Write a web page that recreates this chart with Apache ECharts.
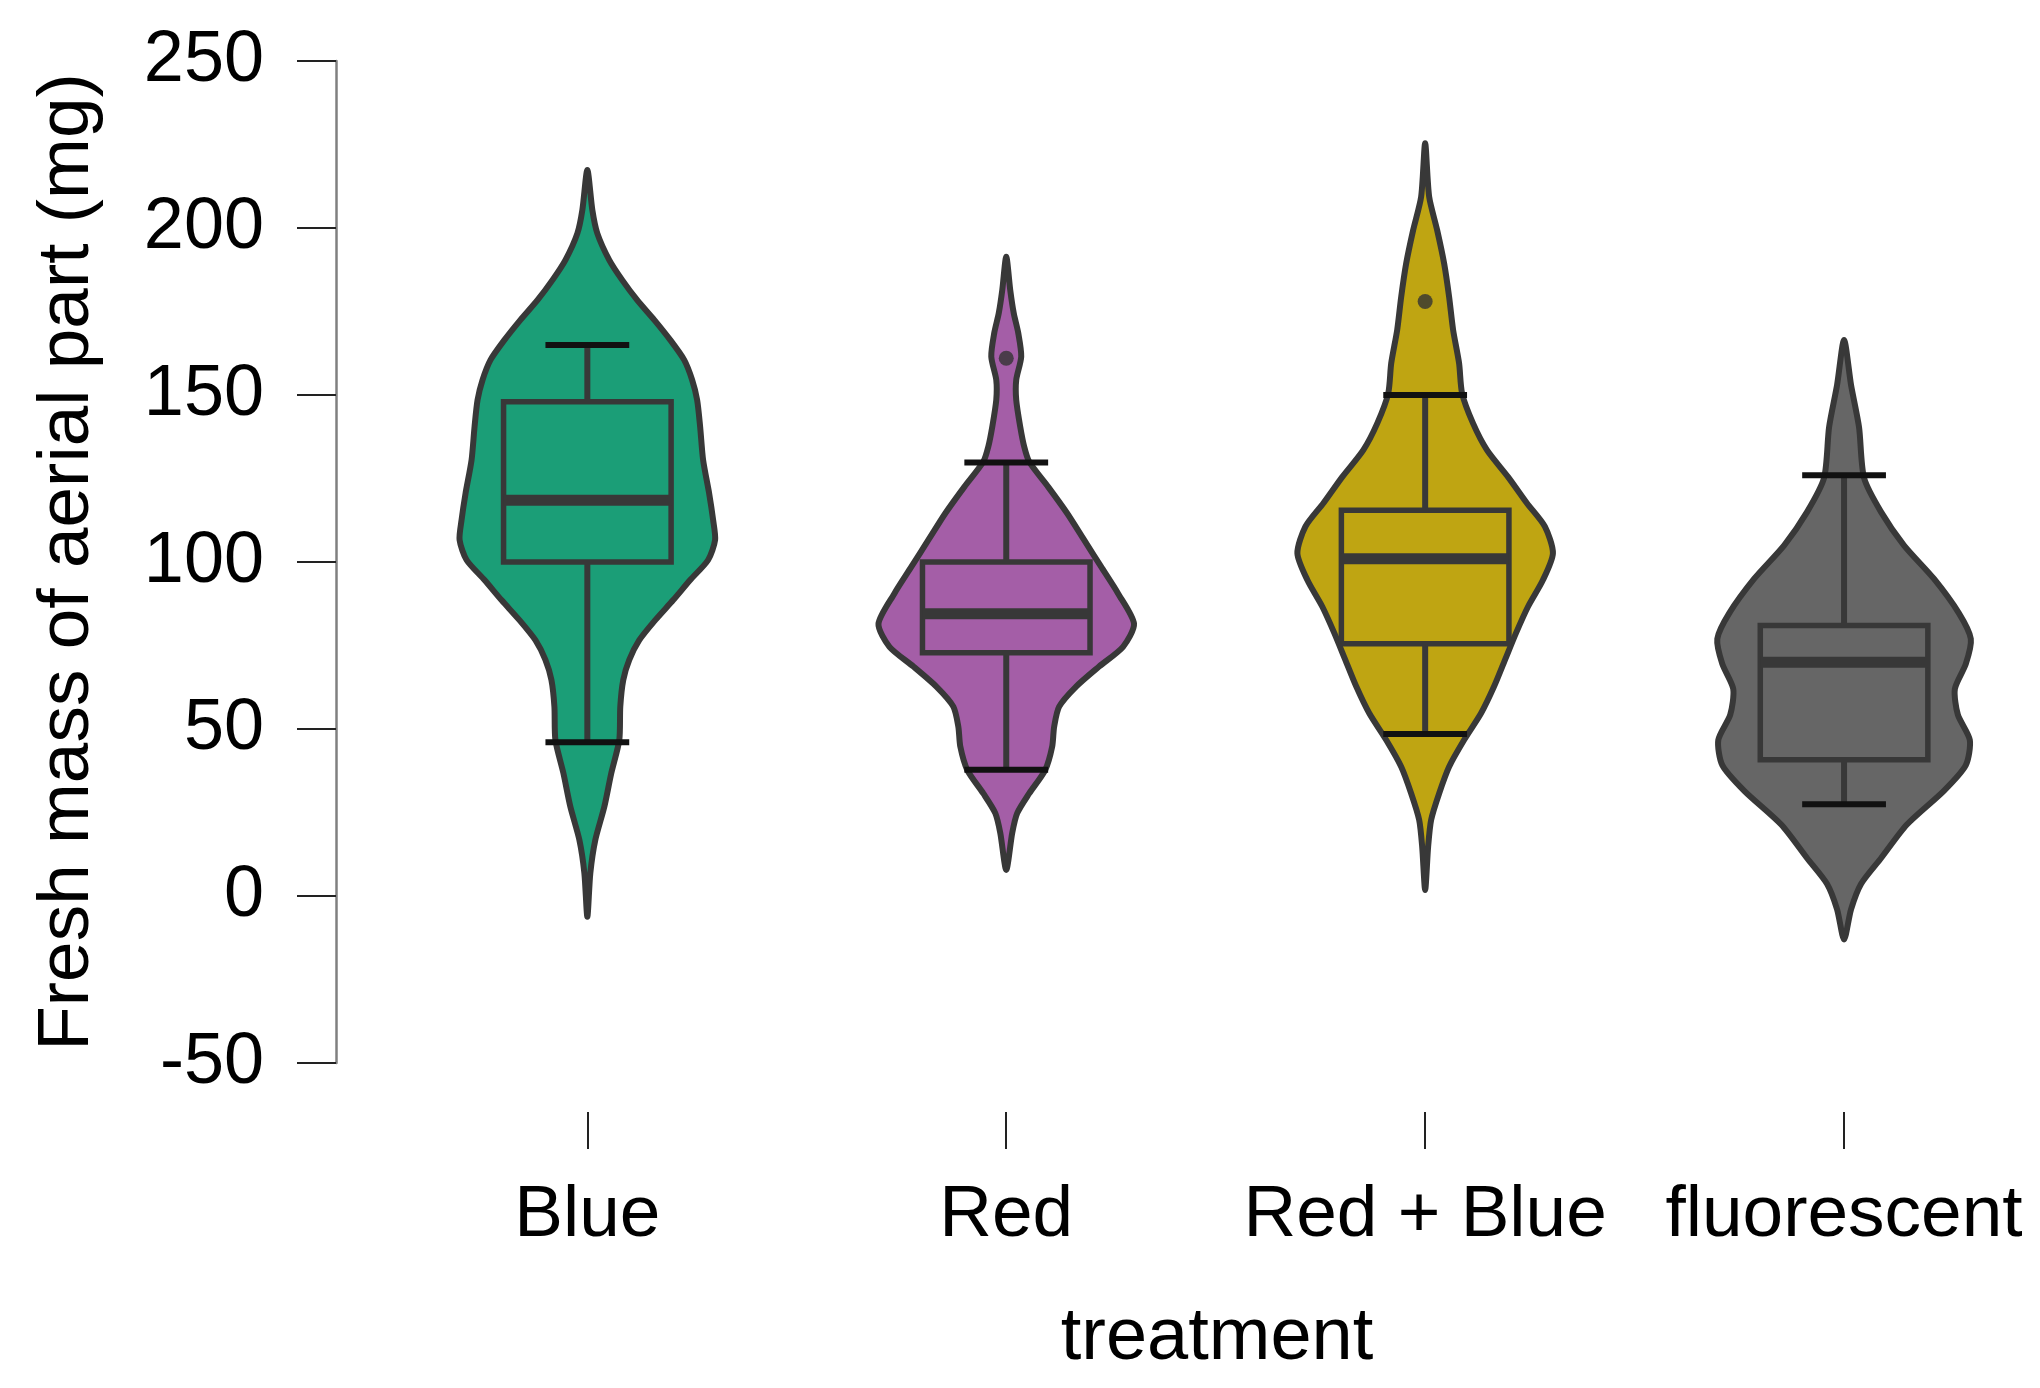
<!DOCTYPE html>
<html>
<head>
<meta charset="utf-8">
<script src="https://cdn.jsdelivr.net/npm/echarts@6/dist/echarts.min.js"></script>
<style>
  html, body { margin: 0; padding: 0; background: #ffffff; }
  #chart { width: 2040px; height: 1388px; }
</style>
</head>
<body>
<div id="chart"></div>
<script>
// ---------------- data ----------------
const categories = ['Blue', 'Red', 'Red + Blue', 'fluorescent'];
const xPositions = [1, 2, 3, 4];

// box-plot statistics per treatment
const whiskerLow  = [46, 37.8, 48.5, 27.5];
const quartile1   = [100, 72.8, 75.5, 40.8];
const medians     = [118.5, 84.5, 101, 70];
const quartile3   = [148, 100, 115.5, 81];
const whiskerHigh = [165, 129.8, 150, 126];

// outliers
const outlierCategory = ['Red', 'Red + Blue'];
const outlierValue = [161, 178];

// violin outlines: [value (mg), relative density width (0..128)]
const blueViolin = [
  [217.4, 0], [205.4, 5], [198.4, 10], [190.4, 22], [184.4, 35], [178.4, 50],
  [172.5, 67], [166.5, 83], [160.5, 97], [154.5, 105], [148.5, 110], [140.5, 113],
  [130.5, 116], [120.6, 122], [112.6, 126], [106.6, 128], [100.6, 121],
  [94.6, 103], [88.6, 86], [82.6, 68], [76.6, 52], [70.7, 42], [64.7, 36],
  [56.7, 33], [46.7, 32], [36.8, 24], [26.7, 17], [16.8, 8], [6.9, 3], [-6.2, 0]
];
const redViolin = [
  [191.4, 0], [181.4, 4], [174.5, 7.5], [168.6, 12], [161.5, 15], [154.5, 10],
  [148.5, 10], [140.5, 14], [134.5, 18], [130, 23], [122.5, 42], [114.6, 61],
  [106.6, 78], [98.6, 95], [90.6, 112], [81.5, 128], [74.6, 117], [68.7, 93],
  [62.7, 70], [56.7, 53], [50.7, 48], [44.7, 46], [37.7, 39], [30.7, 23],
  [24.8, 11], [18.9, 6], [7.8, 0]
];
const redBlueViolin = [
  [225.4, 0], [209.4, 4], [199.4, 12], [189.4, 19], [179.4, 24], [169.5, 28],
  [159.5, 34], [150.5, 37], [141.5, 48], [133.5, 62], [125.5, 83], [117.6, 102],
  [110.6, 120], [102.6, 128], [94.6, 118], [86.6, 103], [78.7, 91], [70.7, 80],
  [62.7, 69], [54.7, 56], [46.7, 39], [38.7, 24], [30.7, 14], [22.8, 6],
  [14.8, 3], [1.8, 0]
];
const fluorescentViolin = [
  [166.5, 0], [153, 7], [140.4, 15], [125.2, 20], [115, 37], [105, 60], [95, 90],
  [84.7, 115], [77, 127], [69.5, 122], [62, 111], [54.3, 114], [46.7, 126],
  [39.2, 122], [31.5, 100], [21.4, 63], [11.3, 37], [3.6, 17], [-4, 7], [-13, 0]
];
const violinProfiles = [blueViolin, redViolin, redBlueViolin, fluorescentViolin];

// ---------------- style ----------------
const fillColors = ['#1b9e77', '#a45ea7', '#bfa512', '#666666'];
const outline = '#383838';
const VIOLIN_HALF = 0.305;   // x-units for density width 128
const BOX_HALF = 0.2;        // x-units
const CAP_HALF = 0.1;        // x-units
const FONT = "'Liberation Sans', Arial, Helvetica, sans-serif";

const chart = echarts.init(document.getElementById('chart'), null, { renderer: 'canvas' });

const violinData = xPositions.map((x, i) => [x, i]);
const boxData = xPositions.map((x, i) => [x, whiskerLow[i], quartile1[i], medians[i], quartile3[i], whiskerHigh[i]]);
const outlierData = outlierCategory.map((c, k) => [xPositions[categories.indexOf(c)], outlierValue[k]]);

const option = {
  animation: false,
  backgroundColor: '#ffffff',
  grid: { left: 336, top: 61, width: 1684, height: 1002, containLabel: false },
  xAxis: {
    type: 'value',
    min: 0.4,
    max: 4.42,
    offset: 49,
    splitLine: { show: false },
    axisLine: { show: false, onZero: false },
    axisTick: { show: true, customValues: xPositions, length: 37, lineStyle: { color: '#222', width: 2 } },
    axisLabel: {
      customValues: xPositions,
      formatter: v => categories[xPositions.indexOf(v)] || '',
      fontSize: 73, color: '#000', fontFamily: FONT, margin: 67
    }
  },
  yAxis: {
    type: 'value',
    min: -50, max: 250, interval: 50,
    name: 'Fresh mass of aerial part (mg)',
    nameLocation: 'middle',
    nameGap: 232,
    nameTextStyle: { fontSize: 73, color: '#000', fontFamily: FONT },
    splitLine: { show: false },
    axisLine: { show: true, lineStyle: { color: '#808080', width: 2.5 } },
    axisTick: { show: true, length: 39, lineStyle: { color: '#222', width: 2 } },
    axisLabel: { fontSize: 72, color: '#000', fontFamily: FONT, margin: 72 }
  },
  graphic: [{
    type: 'text',
    x: 1217, y: 1339,
    style: { text: 'treatment', font: '74px ' + FONT, fill: '#000', textAlign: 'center', textVerticalAlign: 'middle' }
  }],
  series: [
    {
      type: 'custom',
      name: 'violin',
      data: violinData,
      encode: { x: 0, y: -1 },
      renderItem: function (params, api) {
        const i = api.value(1);
        const cx = api.value(0);
        const prof = violinProfiles[i];
        const left = prof.map(p => api.coord([cx - p[1] / 128 * VIOLIN_HALF, p[0]]));
        const right = prof.slice().reverse().map(p => api.coord([cx + p[1] / 128 * VIOLIN_HALF, p[0]]));
        const pts = left.concat(right.slice(1, -1));
        return {
          type: 'polygon',
          shape: { points: pts, smooth: 0.25 },
          style: { fill: fillColors[i], stroke: outline, lineWidth: 6, lineJoin: 'round' }
        };
      },
      z: 1
    },
    {
      type: 'custom',
      name: 'box',
      data: boxData,
      encode: { x: 0, y: [1, 5] },
      renderItem: function (params, api) {
        const cx = api.value(0);
        const lo = api.value(1), q1 = api.value(2), med = api.value(3), q3 = api.value(4), hi = api.value(5);
        const pLo = api.coord([cx, lo]), pQ1 = api.coord([cx, q1]), pQ3 = api.coord([cx, q3]), pHi = api.coord([cx, hi]);
        const bl = api.coord([cx - BOX_HALF, q3]);
        const br = api.coord([cx + BOX_HALF, q1]);
        const ml = api.coord([cx - BOX_HALF, med]);
        const mr = api.coord([cx + BOX_HALF, med]);
        const cl1 = api.coord([cx - CAP_HALF, hi]), cr1 = api.coord([cx + CAP_HALF, hi]);
        const cl2 = api.coord([cx - CAP_HALF, lo]), cr2 = api.coord([cx + CAP_HALF, lo]);
        return {
          type: 'group',
          children: [
            { type: 'line', shape: { x1: pQ3[0], y1: pQ3[1], x2: pHi[0], y2: pHi[1] }, style: { stroke: outline, lineWidth: 6 } },
            { type: 'line', shape: { x1: pQ1[0], y1: pQ1[1], x2: pLo[0], y2: pLo[1] }, style: { stroke: outline, lineWidth: 6 } },
            { type: 'rect', shape: { x: bl[0], y: bl[1], width: br[0] - bl[0], height: br[1] - bl[1] }, style: { fill: 'none', stroke: outline, lineWidth: 5.5 } },
            { type: 'line', shape: { x1: ml[0], y1: ml[1], x2: mr[0], y2: mr[1] }, style: { stroke: outline, lineWidth: 11 } },
            { type: 'line', shape: { x1: cl1[0], y1: cl1[1], x2: cr1[0], y2: cr1[1] }, style: { stroke: '#111', lineWidth: 6 } },
            { type: 'line', shape: { x1: cl2[0], y1: cl2[1], x2: cr2[0], y2: cr2[1] }, style: { stroke: '#111', lineWidth: 6 } }
          ]
        };
      },
      z: 2
    },
    {
      type: 'scatter',
      name: 'outliers',
      data: outlierData,
      symbol: 'circle',
      symbolSize: 15,
      itemStyle: { color: '#333333' },
      z: 3
    }
  ]
};
chart.setOption(option);
</script>
</body>
</html>
